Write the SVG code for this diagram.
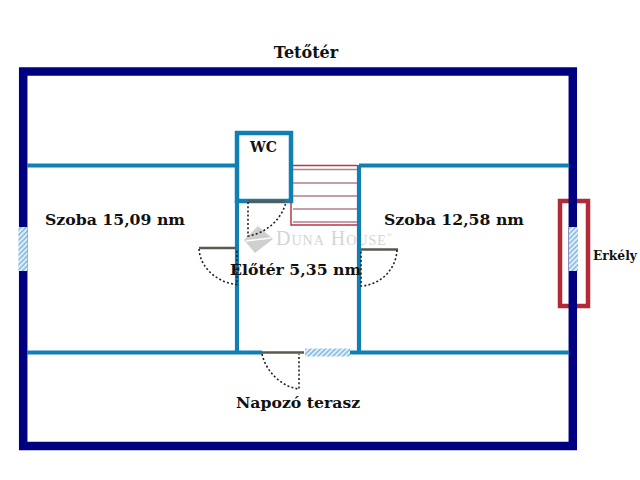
<svg xmlns="http://www.w3.org/2000/svg" width="640" height="480" viewBox="0 0 640 480">
<defs>
<pattern id="hatch" width="3.5" height="3.5" patternUnits="userSpaceOnUse" patternTransform="rotate(45)">
<rect width="3.5" height="3.5" fill="#e4f0f8"/><rect width="1.600" height="3.500" fill="#86bce0"/>
</pattern>
</defs>
<style>
text{font-family:"DejaVu Serif","Liberation Serif",serif;font-weight:bold;fill:#111}
.outer{fill:none;stroke:#000080;stroke-width:8.5}
.inner{fill:none;stroke:#1080b4;stroke-width:4.2}
.stair{fill:none;stroke:#b0808a;stroke-width:1.3}
.door{fill:none;stroke:#5a5a50;stroke-width:2.6}
.swing{fill:none;stroke:#222;stroke-width:1.6;stroke-dasharray:2 2.2}
.hatch{fill:url(#hatch)}
</style>
<rect width="640" height="480" fill="#fff"/>
<g id="watermark">
<path d="M258 226L273 239L255 253L244 240Z" fill="#cfcfcf"/>
<path d="M246 241L271 238" stroke="#fff" stroke-width="1.5" fill="none"/>
<text x="276" y="245" font-size="20" style="fill:#d4d4d4;font-family:'Liberation Serif',serif;font-weight:normal;letter-spacing:1px;font-variant:small-caps">Duna House<tspan font-size="7" dy="-8" style="font-variant:normal;letter-spacing:0">®</tspan></text>
</g>
<g id="connectors">
<path d="M560 306V201H588V306Z" fill="none" stroke="#b22a36" stroke-width="4.500"/>
<rect class="outer" x="23.2" y="71.5" width="549.6" height="374.5"/>
<path class="inner" d="M27 165.500H237M359 165.500H569M27 352.500H262M350 352.500H569M237 200V352M359 165V352"/>
<rect x="237" y="133" width="54" height="68" fill="#fff" stroke="#1080b4" stroke-width="4.500"/>
<path d="M293 165.500H357M291 202V225H357" fill="none" stroke="#b53a48" stroke-width="1.500"/>
<path class="stair" d="M293 169.500H357M293 183H357M293 196H357M293 209H357M293 222H357"/>
<path class="door" d="M248 201.500H285M199 248H236M361 249.500H398M262 352.500H304"/>
<path class="swing" d="M248 202V236C263 234 281 222 286 202"/>
<path class="swing" d="M199 249C200 268 218 283 237 284.500V249"/>
<path class="swing" d="M397 250C396 270 380 285 361 286V250"/>
<path class="swing" d="M262 354C266 372 282 387 299 389V354"/>
<rect class="hatch" x="305" y="348.500" width="45" height="8"/>
<rect x="18.500" y="227" width="9" height="44" class="hatch"/>
<rect x="569" y="227" width="9" height="44" class="hatch"/>
</g>
<g id="title"><text x="306" y="58" font-size="16" text-anchor="middle">Tetőtér</text></g>
<g id="wc"><text x="263.500" y="152" font-size="14" text-anchor="middle">WC</text></g>
<g id="szoba1"><text x="45" y="225" font-size="15.700">Szoba 15,09 nm</text></g>
<g id="szoba2"><text x="384" y="225" font-size="15.700">Szoba 12,58 nm</text></g>
<g id="eloter"><text x="230" y="275" font-size="15.700">Előtér 5,35 nm</text></g>
<g id="terasz"><text x="236" y="408" font-size="15.700">Napozó terasz</text></g>
<g id="erkely"><text x="593" y="260" font-size="12.300">Erkély</text></g>
</svg>
